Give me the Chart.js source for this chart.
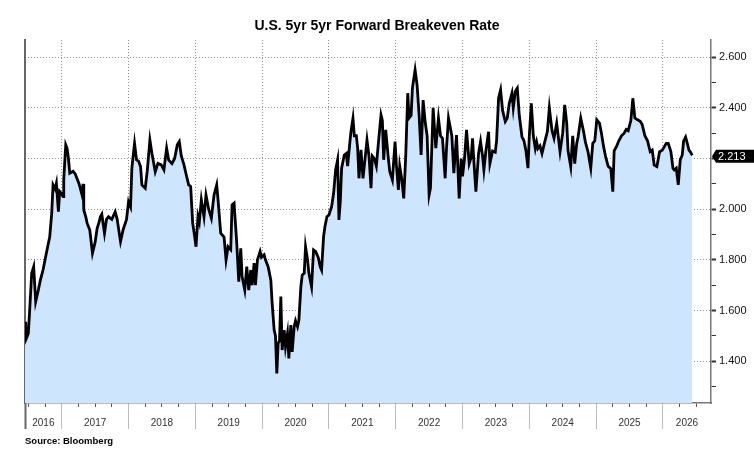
<!DOCTYPE html>
<html>
<head>
<meta charset="utf-8">
<script src="https://cdn.jsdelivr.net/npm/chart.js@4.4.1/dist/chart.umd.min.js"></script>
<style>
  html, body { margin: 0; padding: 0; background: #fff; }
  #wrap { width: 754px; height: 460px; }
</style>
</head>
<body>
<div id="wrap"><canvas id="chart" width="754" height="460"></canvas></div>
<script>
// weekly-ish readings, x in decimal years
const dates = [
  2016.45, 2016.46, 2016.47, 2016.50, 2016.52, 2016.55, 2016.58, 2016.61, 2016.65, 2016.68,
  2016.72, 2016.76, 2016.80, 2016.82, 2016.85, 2016.87, 2016.90, 2016.92, 2016.95, 2016.97,
  2017.00, 2017.02, 2017.03, 2017.06, 2017.08, 2017.10, 2017.12, 2017.17, 2017.20, 2017.23,
  2017.26, 2017.30, 2017.32, 2017.33, 2017.36, 2017.38, 2017.42, 2017.46, 2017.50, 2017.53,
  2017.56, 2017.58, 2017.60, 2017.64, 2017.67, 2017.70, 2017.75, 2017.80, 2017.83, 2017.88,
  2017.92, 2017.97, 2018.00,
  2018.03, 2018.05, 2018.09, 2018.12, 2018.15, 2018.18, 2018.20, 2018.25, 2018.28, 2018.32,
  2018.35, 2018.40, 2018.44, 2018.49, 2018.53, 2018.57, 2018.60, 2018.65, 2018.69, 2018.73,
  2018.76, 2018.79, 2018.83, 2018.87, 2018.90, 2018.93, 2018.96, 2018.99, 2019.01, 2019.04,
  2019.06, 2019.09, 2019.13, 2019.16, 2019.20, 2019.24, 2019.28, 2019.32, 2019.34, 2019.38,
  2019.43, 2019.46, 2019.49, 2019.53, 2019.55, 2019.58, 2019.62, 2019.65,
  2019.68, 2019.70, 2019.74, 2019.77, 2019.80, 2019.83, 2019.85, 2019.88, 2019.90, 2019.93,
  2019.97, 2019.99, 2020.03, 2020.05, 2020.09, 2020.13, 2020.15, 2020.18, 2020.20, 2020.22,
  2020.24, 2020.26, 2020.28, 2020.30, 2020.33, 2020.35, 2020.38, 2020.40, 2020.43, 2020.45,
  2020.48, 2020.50, 2020.53, 2020.55, 2020.58, 2020.60, 2020.63, 2020.65, 2020.68, 2020.70,
  2020.74, 2020.77, 2020.80, 2020.84, 2020.87, 2020.89, 2020.92, 2020.94, 2020.97, 2021.00,
  2021.04, 2021.07, 2021.10, 2021.13, 2021.15,
  2021.17, 2021.19, 2021.23, 2021.26, 2021.28, 2021.31, 2021.33, 2021.36, 2021.38, 2021.41,
  2021.43, 2021.45, 2021.48, 2021.51, 2021.57, 2021.60, 2021.63, 2021.65, 2021.68, 2021.71,
  2021.74, 2021.78, 2021.80, 2021.82, 2021.85, 2021.89, 2021.91, 2021.95, 2021.99, 2022.01,
  2022.04, 2022.06, 2022.09, 2022.12, 2022.15, 2022.18, 2022.20, 2022.23, 2022.25, 2022.29,
  2022.32, 2022.35, 2022.38, 2022.41, 2022.44, 2022.47, 2022.50, 2022.52, 2022.56, 2022.60,
  2022.64, 2022.67, 2022.70, 2022.74, 2022.76, 2022.79,
  2022.84, 2022.87, 2022.91, 2022.95, 2022.98, 2023.00, 2023.03, 2023.06, 2023.10, 2023.13,
  2023.15, 2023.17, 2023.20, 2023.24, 2023.27, 2023.30, 2023.32, 2023.35, 2023.39, 2023.41,
  2023.45, 2023.49, 2023.51, 2023.54, 2023.57, 2023.60, 2023.64, 2023.67, 2023.70, 2023.74,
  2023.76, 2023.79, 2023.82, 2023.85, 2023.89, 2023.92, 2023.95, 2023.98, 2024.00, 2024.03,
  2024.06, 2024.09, 2024.11, 2024.13, 2024.16, 2024.19, 2024.23, 2024.27, 2024.30, 2024.34,
  2024.37, 2024.41,
  2024.46, 2024.50, 2024.53, 2024.56, 2024.58, 2024.62, 2024.65, 2024.68, 2024.71, 2024.73,
  2024.77, 2024.81, 2024.84, 2024.88, 2024.92, 2024.95, 2024.98, 2025.01, 2025.05, 2025.08,
  2025.11, 2025.14, 2025.18, 2025.22, 2025.25, 2025.27, 2025.31, 2025.34, 2025.38, 2025.42,
  2025.45, 2025.48, 2025.52, 2025.55, 2025.58, 2025.62, 2025.66, 2025.69, 2025.73, 2025.77,
  2025.81, 2025.84, 2025.87, 2025.91, 2025.95, 2025.99, 2026.02, 2026.05, 2026.08, 2026.12,
  2026.15, 2026.17, 2026.20, 2026.23, 2026.26, 2026.29, 2026.31, 2026.34, 2026.36, 2026.39,
  2026.41, 2026.44
];
const values = [
  1.500, 1.556, 1.490, 1.510, 1.600, 1.747, 1.773, 1.635, 1.681, 1.720,
  1.760, 1.813, 1.866, 1.890, 1.984, 2.096, 2.080, 2.103, 1.990, 2.070,
  2.060, 2.050, 2.116, 2.254, 2.240, 2.200, 2.142, 2.150, 2.140, 2.120,
  2.100, 2.060, 2.100, 1.997, 1.970, 1.945, 1.918, 1.826, 1.870, 1.925,
  1.950, 1.971, 1.980, 1.905, 1.960, 1.970, 1.960, 1.990, 1.960, 1.872,
  1.920, 1.960, 2.030,
  2.010, 2.162, 2.260, 2.195, 2.190, 2.168, 2.096, 2.083, 2.150, 2.273,
  2.221, 2.148, 2.181, 2.175, 2.155, 2.241, 2.195, 2.180, 2.200, 2.254,
  2.267, 2.210, 2.175, 2.129, 2.096, 2.090, 1.945, 1.892, 1.852, 1.971,
  1.950, 2.037, 1.970, 2.056, 2.000, 1.964, 2.056, 2.096, 2.037, 1.905,
  1.890, 1.800, 1.852, 1.840, 2.017, 2.024, 1.866, 1.714,
  1.846, 1.734, 1.681, 1.773, 1.681, 1.760, 1.700, 1.787, 1.700, 1.800,
  1.833, 1.810, 1.820, 1.800, 1.773, 1.720, 1.629, 1.523, 1.500, 1.352,
  1.471, 1.480, 1.655, 1.444, 1.523, 1.457, 1.510, 1.411, 1.543, 1.437,
  1.536, 1.560, 1.536, 1.560, 1.694, 1.740, 1.747, 1.852, 1.800, 1.747,
  1.694, 1.839, 1.833, 1.810, 1.773, 1.760, 1.892, 1.931, 1.970, 1.977,
  2.010, 2.063, 2.155, 2.195, 1.958,
  2.030, 2.162, 2.214, 2.220, 2.170, 2.254, 2.306, 2.359, 2.290, 2.290,
  2.241, 2.122, 2.234, 2.122, 2.273, 2.210, 2.083, 2.210, 2.200, 2.170,
  2.260, 2.372, 2.350, 2.195, 2.313, 2.200, 2.150, 2.116, 2.267, 2.175,
  2.076, 2.170, 2.120, 2.043, 2.210, 2.458, 2.360, 2.370, 2.478, 2.550,
  2.490, 2.372, 2.214, 2.431, 2.346, 2.290, 2.056, 2.083, 2.400, 2.241,
  2.359, 2.290, 2.280, 2.122, 2.240, 2.360,
  2.290, 2.142, 2.293, 2.043, 2.200, 2.130, 2.200, 2.313, 2.180, 2.205,
  2.280, 2.190, 2.069, 2.220, 2.267, 2.210, 2.155, 2.230, 2.306, 2.180,
  2.230, 2.225, 2.270, 2.438, 2.471, 2.390, 2.346, 2.360, 2.418, 2.458,
  2.400, 2.465, 2.478, 2.370, 2.286, 2.270, 2.230, 2.162, 2.290, 2.418,
  2.290, 2.240, 2.265, 2.240, 2.250, 2.220, 2.265, 2.306, 2.400, 2.310,
  2.280, 2.340,
  2.227, 2.300, 2.412, 2.340, 2.230, 2.168, 2.290, 2.180, 2.260, 2.285,
  2.360, 2.310, 2.265, 2.225, 2.162, 2.260, 2.270, 2.353, 2.340, 2.300,
  2.250, 2.210, 2.170, 2.160, 2.069, 2.230, 2.250, 2.270, 2.290, 2.300,
  2.315, 2.310, 2.350, 2.438, 2.360, 2.353, 2.347, 2.334, 2.290, 2.270,
  2.227, 2.233, 2.174, 2.168, 2.227, 2.233, 2.246, 2.260, 2.260, 2.227,
  2.162, 2.155, 2.162, 2.096, 2.195, 2.214, 2.270, 2.285, 2.265, 2.233,
  2.227, 2.213
];

const yearStarts = [2017, 2018, 2019, 2020, 2021, 2022, 2023, 2024, 2025, 2026];
const yearLabels = ['2016', '2017', '2018', '2019', '2020', '2021', '2022', '2023', '2024', '2025', '2026'];
const yTicks = [1.3, 1.4, 1.5, 1.6, 1.7, 1.8, 1.9, 2.0, 2.1, 2.2, 2.3, 2.4, 2.5, 2.6];
const lastValue = 2.213;

const X_MIN = 2016.45, X_MAX = 2026.72;
const Y_MIN = 1.235, Y_MAX = 2.668;

Chart.defaults.font.family = '"Liberation Sans", Arial, sans-serif';

const isYearStart = v => yearStarts.some(y => Math.abs(y - v) < 1e-6);
const isMajorY = v => Math.abs(v * 5 - Math.round(v * 5)) < 1e-6;

// quarter marks along the bottom band
const quarterTicks = [];
[2016].concat(yearStarts).forEach(y => {
  [0, 0.25, 0.5, 0.75].forEach(q => {
    const v = y + q;
    if (v > X_MIN && v < X_MAX) quarterTicks.push(v);
  });
});
// year labels centred in each year's slot
const labelPos = yearLabels.map(l => {
  const y = parseInt(l, 10);
  return (Math.max(y, X_MIN) + Math.min(y + 1, X_MAX)) / 2;
});

const lastValueTag = {
  id: 'lastValueTag',
  afterDraw(chart) {
    const ctx = chart.ctx;
    const y = chart.scales.y.getPixelForValue(lastValue) + 1;
    const x = chart.chartArea.right;
    ctx.save();
    ctx.fillStyle = '#000';
    ctx.beginPath();
    ctx.moveTo(x + 1, y);
    ctx.lineTo(x + 5, y - 6.5);
    ctx.lineTo(chart.width, y - 6.5);
    ctx.lineTo(chart.width, y + 6.5);
    ctx.lineTo(x + 5, y + 6.5);
    ctx.closePath();
    ctx.fill();
    ctx.fillStyle = '#fff';
    ctx.font = '11px "Liberation Sans", Arial, sans-serif';
    ctx.textBaseline = 'middle';
    ctx.fillText(lastValue.toFixed(3), x + 7, y + 0.5);
    ctx.restore();
  }
};

const sourceNote = {
  id: 'sourceNote',
  afterDraw(chart) {
    const ctx = chart.ctx;
    ctx.save();
    ctx.fillStyle = '#000';
    ctx.font = 'bold 9.5px "Liberation Sans", Arial, sans-serif';
    ctx.textBaseline = 'middle';
    ctx.fillText('Source: Bloomberg', chart.chartArea.left, 441);
    ctx.restore();
  }
};

const ctx = document.getElementById('chart').getContext('2d');
new Chart(ctx, {
  type: 'line',
  data: {
    datasets: [{
      data: dates.map((d, i) => ({ x: d, y: values[i] })),
      borderColor: '#000',
      borderWidth: 2.8,
      backgroundColor: '#cde5fd',
      fill: 'start',
      pointRadius: 0,
      tension: 0,
      xAxisID: 'x',
      yAxisID: 'y'
    }]
  },
  options: {
    responsive: false,
    animation: false,
    layout: { padding: { left: 0, right: 0, top: 0, bottom: 30 } },
    plugins: {
      legend: { display: false },
      tooltip: { enabled: false },
      title: {
        display: true,
        text: 'U.S. 5yr 5yr Forward Breakeven Rate',
        color: '#000',
        font: { size: 14, weight: 'bold' },
        padding: { top: 18, bottom: 5.2 }
      }
    },
    scales: {
      x: {
        type: 'linear',
        position: 'bottom',
        min: X_MIN,
        max: X_MAX,
        afterBuildTicks: s => { s.ticks = quarterTicks.map(v => ({ value: v })); },
        afterFit: s => { s.height = 0; },
        ticks: { display: false },
        grid: {
          color: c => (c.tick && isYearStart(c.tick.value)) ? '#8f8f8f' : 'rgba(0,0,0,0)',
          lineWidth: 1,
          drawTicks: true,
          tickLength: 4,
          tickColor: '#555',
          tickBorderDash: []
        },
        border: { display: true, color: '#777', width: 1.5, dash: [1, 2] }
      },
      xb: {
        type: 'linear',
        position: 'bottom',
        min: X_MIN,
        max: X_MAX,
        afterBuildTicks: s => { s.ticks = [X_MIN].concat(yearStarts).map(v => ({ value: v })); },
        afterFit: s => { s.height = 0; },
        ticks: { display: false },
        grid: {
          drawOnChartArea: false,
          drawTicks: true,
          tickLength: 26,
          tickWidth: c => (c.tick && c.tick.value === X_MIN) ? 2 : 1,
          tickColor: c => (c.tick && c.tick.value === X_MIN) ? '#666' : '#bdbdbd'
        },
        border: { display: false }
      },
      xl: {
        type: 'linear',
        position: 'bottom',
        min: X_MIN,
        max: X_MAX,
        afterBuildTicks: s => { s.ticks = labelPos.map(v => ({ value: v })); },
        afterFit: s => { s.height = 27; },
        ticks: {
          autoSkip: false,
          maxRotation: 0,
          padding: 14.5,
          color: '#333',
          font: { size: 10 },
          callback: (v, i) => yearLabels[i]
        },
        grid: { display: false, drawTicks: false },
        border: { display: false }
      },
      yl: {
        type: 'linear',
        position: 'left',
        min: 0,
        max: 1,
        afterFit: s => { s.width = 25; },
        ticks: { display: false },
        grid: { display: false, drawTicks: false },
        border: { display: true, color: '#666', width: 2 }
      },
      y: {
        type: 'linear',
        position: 'right',
        min: Y_MIN,
        max: Y_MAX,
        afterBuildTicks: s => { s.ticks = yTicks.map(v => ({ value: v })); },
        afterFit: s => { s.width = 43; },
        ticks: {
          padding: 3,
          color: '#111',
          font: { size: 11 },
          callback: v => isMajorY(v) ? v.toFixed(3) : ''
        },
        grid: {
          color: c => (c.tick && isMajorY(c.tick.value)) ? '#8f8f8f' : 'rgba(0,0,0,0)',
          lineWidth: 1,
          tickLength: 5,
          tickColor: '#333',
          tickWidth: c => (c.tick && isMajorY(c.tick.value)) ? 2 : 1,
          tickBorderDash: []
        },
        border: { display: true, color: '#777', width: 1.5, dash: [1, 2] }
      }
    }
  },
  plugins: [lastValueTag, sourceNote]
});
</script>
</body>
</html>
